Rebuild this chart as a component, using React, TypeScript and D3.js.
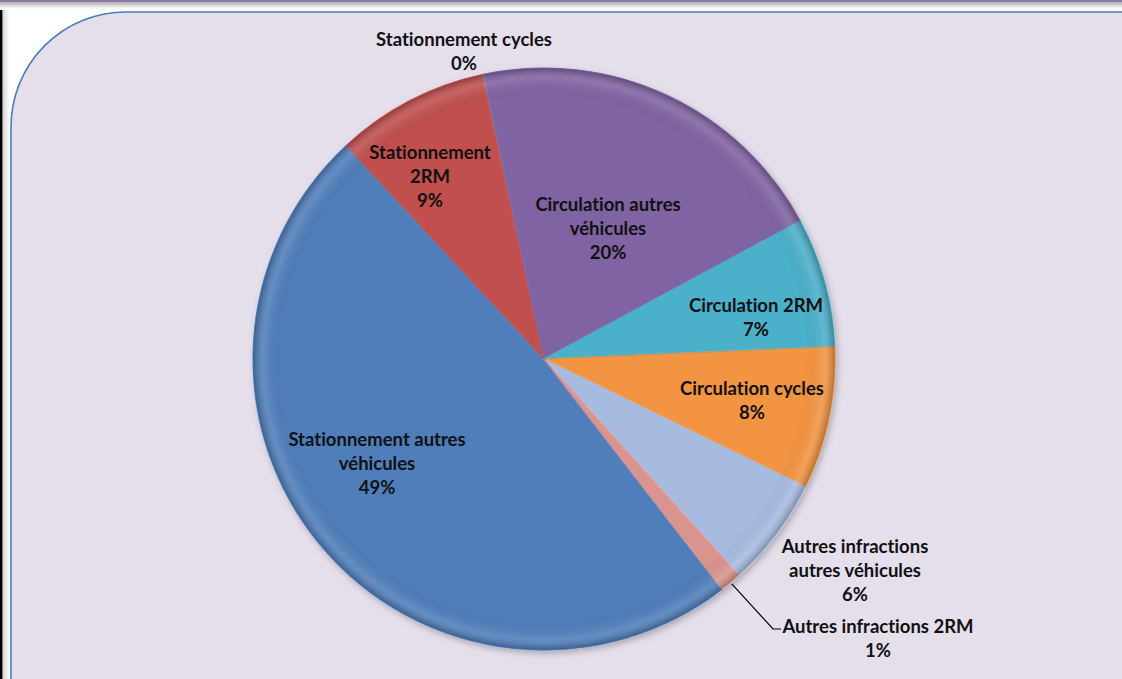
import React from "react";
import * as d3 from "d3";

// ---- data ----
const categories = [
  "Stationnement autres véhicules",
  "Stationnement 2RM",
  "Stationnement cycles",
  "Circulation autres véhicules",
  "Circulation 2RM",
  "Circulation cycles",
  "Autres infractions autres véhicules",
  "Autres infractions 2RM",
];
const values = [48.6, 8.5, 0.05, 20.5, 7.2, 7.9, 6.1, 1.2];
const percentLabels = ["49%", "9%", "0%", "20%", "7%", "8%", "6%", "1%"];
const labelLines: string[][] = [
  ["Stationnement autres", "véhicules"],
  ["Stationnement", "2RM"],
  ["Stationnement cycles"],
  ["Circulation autres", "véhicules"],
  ["Circulation 2RM"],
  ["Circulation cycles"],
  ["Autres infractions", "autres véhicules"],
  ["Autres infractions 2RM"],
];
const colors = ["#4F7EBB", "#C0504D", "#9BBB59", "#8064A2", "#4BB0CA", "#F39442", "#A7BBE0", "#D9948F"];

// ---- layout ----
const W = 1122;
const H = 679;
const cx = 544;
const cy = 359;
const R = 291;
const startDeg = 142.3;
// label anchors (center x, first baseline y) relative to pie center
const labelAnchors: [number, number][] = [
  [-167, 87],
  [-114, -200],
  [-80, -313],
  [64, -148],
  [212, -47],
  [208, 36],
  [311, 194],
  [334, 274],
];
const lineGap = 24;

export default function App() {
  const pie = d3
    .pie<number>()
    .sort(null)
    .value((d) => d)
    .startAngle((startDeg * Math.PI) / 180)
    .endAngle((startDeg * Math.PI) / 180 + 2 * Math.PI);
  const arcs = pie(values);
  const arc = d3.arc<d3.PieArcDatum<number>>().innerRadius(0).outerRadius(R);

  const pink = arcs[7];
  const mid = (pink.startAngle + pink.endAngle) / 2;
  const lx0 = Math.sin(mid) * (R + 2);
  const ly0 = -Math.cos(mid) * (R + 2);
  const leaderEnd: [number, number] = [labelAnchors[7][0] - 105, labelAnchors[7][1] - 4];

  return (
    <svg
      width={W}
      height={H}
      style={{ position: "absolute", left: 0, top: 0, display: "block", fontVariantLigatures: "none" }}
      fontFamily="Lato, 'Open Sans', sans-serif"
    >
      <defs>
        <linearGradient id="topg" x1="0" y1="0" x2="0" y2="1">
          <stop offset="0" stopColor="#AFAFAF" />
          <stop offset="1" stopColor="#FFFFFF" />
        </linearGradient>
        <linearGradient id="leftg" x1="0" y1="0" x2="1" y2="0">
          <stop offset="0" stopColor="#D8D8D8" />
          <stop offset="1" stopColor="#FFFFFF" />
        </linearGradient>
        <radialGradient id="rim" cx="0.5" cy="0.5" r="0.5">
          <stop offset="0" stopColor="#000" stopOpacity="0" />
          <stop offset="0.9" stopColor="#000" stopOpacity="0" />
          <stop offset="0.965" stopColor="#fff" stopOpacity="0.12" />
          <stop offset="1" stopColor="#000" stopOpacity="0.25" />
        </radialGradient>
        <filter id="shadow" x="-10%" y="-10%" width="120%" height="120%">
          <feDropShadow dx="2" dy="3" stdDeviation="3" floodColor="#000" floodOpacity="0.25" />
        </filter>
      </defs>
      <rect x={0} y={0} width={W} height={H} fill="#FFFFFF" />
      <rect x={0} y={0} width={W} height={2} fill="#8C77AA" />
      <rect x={0} y={2} width={W} height={7} fill="url(#topg)" />
      <rect x={0} y={10} width={2.5} height={H} fill="#000" />
      <rect x={3} y={10} width={7} height={H} fill="url(#leftg)" />
      <rect
        x={11}
        y={12}
        width={W + 120}
        height={H + 120}
        rx={115}
        ry={115}
        fill="#E5DFEC"
        stroke="#4A7EBB"
        strokeWidth={1.6}
      />
      <g transform={`translate(${cx},${cy})`}>
        <g filter="url(#shadow)">
          {arcs.map((a, i) => (
            <path
              key={categories[i]}
              d={arc(a) || ""}
              fill={colors[i]}
              stroke={i === 2 ? "none" : d3.color(colors[i])!.brighter(0.5).formatHex()}
              strokeWidth={1.2}
              strokeLinejoin="round"
            />
          ))}
        </g>
        {arcs.map((a, i) => (
          <path
            key={"d" + i}
            d={arc(a) || ""}
            fill="none"
            stroke={d3.color(colors[i])!.darker(0.6).formatHex()}
            strokeOpacity={i === 2 ? 0 : 0.45}
            strokeWidth={0.8}
          />
        ))}
        <circle r={R} fill="url(#rim)" />
        <polyline
          points={`${lx0},${ly0} ${leaderEnd[0]},${leaderEnd[1]} ${leaderEnd[0] + 8},${leaderEnd[1]}`}
          fill="none"
          stroke="#000"
          strokeWidth={1.2}
        />
        {labelAnchors.map(([x, y], i) => (
          <text
            key={"t" + i}
            x={x}
            y={y}
            textAnchor="middle"
            fontWeight="bold"
            fontSize={18.5}
            fill="#111"
          >
            {[...labelLines[i], percentLabels[i]].map((s, j) => (
              <tspan key={j} x={x} dy={j === 0 ? 0 : lineGap}>
                {s}
              </tspan>
            ))}
          </text>
        ))}
      </g>
    </svg>
  );
}
